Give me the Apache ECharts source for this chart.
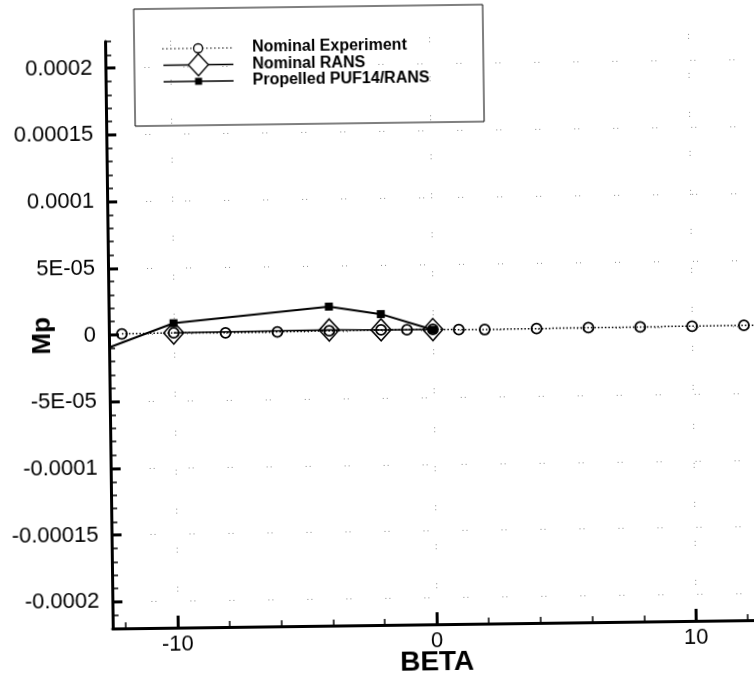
<!DOCTYPE html>
<html>
<head>
<meta charset="utf-8">
<script src="https://cdn.jsdelivr.net/npm/echarts@6/dist/echarts.min.js"></script>
<style>
  html, body { margin: 0; padding: 0; background: #fff; overflow: hidden; }
  #chart { width: 754px; height: 681px; transform: rotate(-0.75deg); transform-origin: 377px 340px; }
</style>
</head>
<body>
<div id="chart"></div>
<script>
// Side-slip sweep: pitching-moment increment Mp against BETA (deg)
const betaExp = [-12, -10, -8, -6, -4, -2, -1, 0, 1, 2, 4, 6, 8, 10, 12, 15];
const mpExp = [0.0000007, 0.0000010, 0.0000005, 0.0000007, 0.0000010, 0.0000012, 0.0000010, 0.0000010,
               0.0000006, 0.0000004, 0.0000006, 0.0000008, 0.0000008, 0.0000009, 0.0000010, 0.0000010];

const betaRans = [-10, -4, -2, 0];
const mpRans = [0.0000009, 0.0000016, 0.0000012, 0.0000009];

const betaProp = [-15, -10, -4, -2, 0];
const mpProp = [-0.000027, 0.0000082, 0.0000191, 0.0000130, 0.0000007];

const seriesNames = ['Nominal Experiment', 'Nominal RANS', 'Propelled PUF14/RANS'];

// Axis ticks and their labels
const xMajorTicks = [-10, 0, 10];
const xMinorTicks = [-12, -10, -8, -6, -4, -2, 0, 2, 4, 6, 8, 10, 12];
const yMajorTicks = [-0.0002, -0.00015, -0.0001, -0.00005, 0, 0.00005, 0.0001, 0.00015, 0.0002];
const yTickLabels = ['-0.0002', '-0.00015', '-0.0001', '-5E-05', '0', '5E-05', '0.0001', '0.00015', '0.0002'];
const yMinorTicks = [];
for (let i = -22; i <= 22; i++) yMinorTicks.push(i / 100000);

const pairs = (xs, ys) => xs.map((x, i) => [x, ys[i]]);

const FONT = '"Liberation Sans", Arial, Helvetica, sans-serif';

const gridDots = { color: '#8a8a8a', width: 1, type: [1, 3, 1, 34] };

const chart = echarts.init(document.getElementById('chart'), null, { renderer: 'canvas' });

// Key rows (vertical centres) and text
const ROW = [46, 62.5, 79];
const keyText = (label, y) => ({
  type: 'text', x: 256, y: y,
  style: { text: label, fill: '#000', fontFamily: FONT, fontWeight: 'bold', fontSize: 16, verticalAlign: 'middle', align: 'left' }
});

const option = {
  backgroundColor: '#fff',
  animation: false,
  grid: { left: 109, top: 38, width: 648, height: 587, containLabel: false, outerBoundsMode: 'none' },
  xAxis: [
    {
      type: 'value', min: -12.5, max: 12.5, position: 'bottom',
      name: 'BETA', nameLocation: 'middle', nameGap: 24, nameMoveOverlap: false,
      nameTextStyle: { fontFamily: FONT, fontWeight: 'bold', fontSize: 28, color: '#000' },
      axisLine: { show: true, onZero: false, lineStyle: { color: '#000', width: 3 } },
      axisTick: { show: true, inside: true, length: 12, customValues: xMajorTicks, lineStyle: { color: '#000', width: 3 } },
      axisLabel: { show: true, customValues: xMajorTicks, margin: 6, fontFamily: FONT, fontSize: 22, color: '#000' },
      splitLine: { show: true, customValues: xMajorTicks, lineStyle: gridDots }
    },
    {
      type: 'value', min: -12.5, max: 12.5, position: 'bottom',
      axisLine: { show: false, onZero: false },
      axisTick: { show: true, inside: true, length: 6, customValues: xMinorTicks, lineStyle: { color: '#000', width: 1.5 } },
      axisLabel: { show: false },
      splitLine: { show: false }
    }
  ],
  yAxis: [
    {
      type: 'value', min: -0.00022, max: 0.00022, position: 'left',
      name: 'Mp', nameLocation: 'middle', nameGap: 53, nameMoveOverlap: false,
      nameTextStyle: { fontFamily: FONT, fontWeight: 'bold', fontSize: 26, color: '#000' },
      axisLine: { show: true, onZero: false, lineStyle: { color: '#000', width: 3 } },
      axisTick: { show: true, inside: true, length: 10, customValues: yMajorTicks, lineStyle: { color: '#000', width: 3 } },
      axisLabel: {
        show: true, customValues: yMajorTicks, margin: 13, fontFamily: FONT, fontSize: 22, color: '#000',
        formatter: (v) => {
          const i = yMajorTicks.findIndex(t => Math.abs(t - v) < 1e-10);
          return i >= 0 ? yTickLabels[i] : '';
        }
      },
      splitLine: { show: true, customValues: yMajorTicks, lineStyle: gridDots }
    },
    {
      type: 'value', min: -0.00022, max: 0.00022, position: 'left',
      axisLine: { show: false, onZero: false },
      axisTick: { show: true, inside: true, length: 6, customValues: yMinorTicks, lineStyle: { color: '#000', width: 1.5 } },
      axisLabel: { show: false },
      splitLine: { show: false }
    }
  ],
  series: [
    {
      name: seriesNames[1], type: 'line', data: pairs(betaRans, mpRans),
      symbol: 'diamond', symbolSize: [20, 22], clip: true, z: 3,
      itemStyle: { color: 'rgba(0,0,0,0)', borderColor: '#000', borderWidth: 1.5 },
      lineStyle: { color: '#000', width: 1.5 }
    },
    {
      name: seriesNames[2], type: 'line', data: pairs(betaProp, mpProp),
      symbol: 'rect', symbolSize: 8, clip: true, z: 4,
      itemStyle: { color: '#000' },
      lineStyle: { color: '#000', width: 2 }
    },
    {
      name: seriesNames[0], type: 'line', data: pairs(betaExp, mpExp),
      symbol: 'circle', symbolSize: 10, clip: true, z: 5,
      itemStyle: { color: 'rgba(0,0,0,0)', borderColor: '#000', borderWidth: 1.8 },
      lineStyle: { color: '#000', width: 1.5, type: [1.5, 2] }
    }
  ],
  // Boxed key in the upper left
  graphic: [
    {
      type: 'group', z: 100,
      children: [
        { type: 'rect', shape: { x: 138, y: 6, width: 349, height: 117 }, style: { fill: '#fff', stroke: '#000', lineWidth: 1 } },

        { type: 'line', shape: { x1: 166, y1: ROW[0], x2: 238, y2: ROW[0] }, style: { stroke: '#000', lineWidth: 1, lineDash: [1.5, 2.5] } },
        { type: 'circle', shape: { cx: 202, cy: ROW[0], r: 4.5 }, style: { fill: '#fff', stroke: '#000', lineWidth: 1.3 } },
        keyText(seriesNames[0], ROW[0]),

        { type: 'line', shape: { x1: 167, y1: ROW[1], x2: 237, y2: ROW[1] }, style: { stroke: '#000', lineWidth: 1.5 } },
        { type: 'polygon', shape: { points: [[202, ROW[1] - 11], [212, ROW[1]], [202, ROW[1] + 11], [192, ROW[1]]] }, style: { fill: '#fff', stroke: '#000', lineWidth: 1.3 } },
        keyText(seriesNames[1], ROW[1]),

        { type: 'line', shape: { x1: 167, y1: ROW[2], x2: 237, y2: ROW[2] }, style: { stroke: '#000', lineWidth: 1.5 } },
        { type: 'rect', shape: { x: 198.5, y: ROW[2] - 3.5, width: 7, height: 7 }, style: { fill: '#000' } },
        keyText(seriesNames[2], ROW[2])
      ]
    }
  ]
};

chart.setOption(option);
</script>
</body>
</html>
